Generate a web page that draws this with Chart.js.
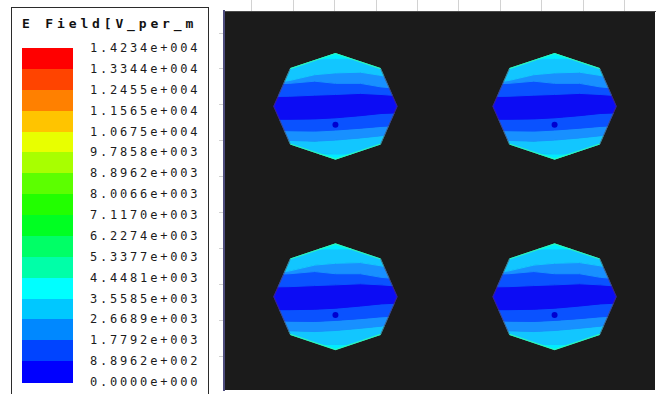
<!DOCTYPE html>
<html>
<head>
<meta charset="utf-8">
<script src="https://cdn.jsdelivr.net/npm/chart.js@4.4.1/dist/chart.umd.min.js"></script>
<style>
  html, body { margin: 0; padding: 0; background: #fff; }
  #wrap { position: relative; width: 659px; height: 394px; overflow: hidden; }
  #plot { position: absolute; left: 0; top: 0; }
  #legendBox { position: absolute; left: 11px; top: 7px; width: 196px; height: 400px; border: 1px solid #2b2b2b; background: #fff; }
  .legTitle { position: absolute; left: 22px; top: 16px; font: bold 13px "DejaVu Sans Mono", monospace; letter-spacing: 3.85px; color: #111; line-height: 16px; white-space: nowrap; }
  .legBand { position: absolute; left: 22px; width: 51px; }
  .legLabel { position: absolute; left: 90px; font: 12px "DejaVu Sans Mono", monospace; letter-spacing: 2.8px; color: #1c1c1c; line-height: 14px; white-space: nowrap; }
</style>
</head>
<body>
<div id="wrap">
  <canvas id="plot" width="659" height="394"></canvas>
  <div id="legendBox"></div>
</div>
<script>
// legend
const legendTitle = 'E Field[V_per_m';
const legendLabels = ['1.4234e+004', '1.3344e+004', '1.2455e+004', '1.1565e+004', '1.0675e+004',
  '9.7858e+003', '8.8962e+003', '8.0066e+003', '7.1170e+003', '6.2274e+003', '5.3377e+003',
  '4.4481e+003', '3.5585e+003', '2.6689e+003', '1.7792e+003', '8.8962e+002', '0.0000e+000'];
const legendColors = ['#ff0000', '#ff4400', '#ff8000', '#ffc400', '#e8ff00', '#a8ff00', '#5cff00', '#22ff00',
  '#00ff22', '#00ff66', '#00ffa8', '#00ffff', '#00c8ff', '#0088ff', '#0044ff', '#0000ff'];

// axes (ruler ticks only)
const xTicks = [1, 2, 3, 4, 5, 6, 7, 8, 9, 10];
const yTicks = [1, 2, 3, 4, 5, 6, 7, 8, 9, 10];
const xRange = [0.33, 10.734];
const yRange = [0.063, 10.614];

// four octagonal ports
const centerX = [3.02, 8.31];
const centerY = [7.96, 2.66];
const octagonX = [1.49, 1.09, 0, -1.09, -1.49, -1.09, 0, 1.09];
const octagonY = [0, 1.05, 1.47, 1.05, 0, -1.05, -1.47, -1.05];

// contour band boundaries (relative to centre), top to bottom
const boundaryX = [-1.7, -1.1, -0.5, 0, 0.6, 1.1, 1.7];
const boundaries = [
  [1.30, 1.30, 1.32, 1.33, 1.32, 1.30, 1.30],
  [0.62, 0.72, 0.88, 0.93, 0.95, 0.86, 0.70],
  [0.62, 0.64, 0.70, 0.64, 0.64, 0.54, 0.48],
  [0.27, 0.28, 0.31, 0.33, 0.36, 0.33, 0.28],
  [-0.36, -0.36, -0.35, -0.32, -0.26, -0.20, -0.17],
  [-0.66, -0.68, -0.69, -0.66, -0.61, -0.56, -0.52],
  [-0.84, -0.95, -0.97, -0.94, -0.88, -0.82, -0.70],
  [-1.30, -1.30, -1.32, -1.33, -1.32, -1.30, -1.30]
];
const bandColors = ['#00ecff', '#12c6ff', '#1890ff', '#0a52ff', '#0c0cf4', '#0a52ff', '#1890ff', '#12c6ff', '#00ecff'];
const dotOffset = [0, -0.51];

// build legend
const box = document.getElementById('wrap');
function addDiv(cls, css, text) {
  const d = document.createElement('div');
  d.className = cls;
  Object.assign(d.style, css);
  if (text) d.textContent = text;
  box.appendChild(d);
}
addDiv('legTitle', {}, legendTitle);
const bandTop = 48, bandH = (382 - 48) / legendColors.length;
legendColors.forEach((c, i) => {
  addDiv('legBand', {top: (bandTop + i * bandH) + 'px', height: (bandH + 0.5) + 'px', background: c});
});
legendLabels.forEach((t, i) => {
  addDiv('legLabel', {top: (bandTop + i * bandH - 7) + 'px'}, t);
});

// clip a polygon by the convex octagon (Sutherland-Hodgman)
const octagon = octagonX.map((x, i) => ({x: x, y: octagonY[i]}));
function clipPoly(subject) {
  let out = subject;
  for (let i = 0; i < octagon.length; i++) {
    const a = octagon[i], b = octagon[(i + 1) % octagon.length];
    const ex = b.x - a.x, ey = b.y - a.y;
    const inside = p => ex * (p.y - a.y) - ey * (p.x - a.x) >= 0;
    const inp = out;
    out = [];
    for (let j = 0; j < inp.length; j++) {
      const p = inp[j], q = inp[(j + 1) % inp.length];
      const pin = inside(p), qin = inside(q);
      if (pin) out.push(p);
      if (pin !== qin) {
        const dx = q.x - p.x, dy = q.y - p.y;
        const t = (ex * (a.y - p.y) - ey * (a.x - p.x)) / (ex * dy - ey * dx);
        out.push({x: p.x + t * dx, y: p.y + t * dy});
      }
    }
  }
  return out;
}

const datasets = [];
const flatTop = boundaryX.map(() => 2), flatBottom = boundaryX.map(() => -2);
centerY.forEach(cy => centerX.forEach(cx => {
  // centre dot
  datasets.push({data: [{x: cx + dotOffset[0], y: cy + dotOffset[1]}], showLine: false,
    pointRadius: 3, pointBackgroundColor: '#0000d0', pointBorderWidth: 0, order: 0});
  // rim
  const rim = (idx, color, w) => datasets.push({
    data: idx.map(k => ({x: cx + octagonX[k], y: cy + octagonY[k]})),
    borderColor: color, borderWidth: w, pointRadius: 0, fill: false, order: 1
  });
  rim([3, 2, 1], 'rgba(50,255,170,0.85)', 1.2);
  rim([5, 6, 7], 'rgba(50,255,170,0.85)', 1.2);
  rim([1, 0, 7], 'rgba(110,60,30,0.5)', 1);
  rim([3, 4, 5], 'rgba(110,60,30,0.5)', 1);
  // contour bands
  bandColors.forEach((color, k) => {
    const upper = k === 0 ? flatTop : boundaries[k - 1];
    const lower = k === bandColors.length - 1 ? flatBottom : boundaries[k];
    const subject = boundaryX.map((x, i) => ({x: x, y: upper[i]}))
      .concat(boundaryX.map((x, i) => ({x: x, y: lower[i]})).reverse());
    const poly = clipPoly(subject);
    if (poly.length < 3) return;
    poly.push(poly[0]);
    datasets.push({
      data: poly.map(p => ({x: cx + p.x, y: cy + p.y})),
      borderColor: color, backgroundColor: color, borderWidth: 1,
      pointRadius: 0, fill: 'shape', order: 2
    });
  });
}));

const plotBackground = {
  id: 'plotBackground',
  beforeDraw(chart) {
    const {ctx, chartArea: a} = chart;
    ctx.save();
    ctx.fillStyle = '#1b1b1b';
    ctx.fillRect(a.left, a.top, a.right - a.left, a.bottom - a.top);
    ctx.restore();
  }
};

new Chart(document.getElementById('plot').getContext('2d'), {
  type: 'line',
  data: {datasets: datasets},
  options: {
    responsive: false,
    animation: false,
    events: [],
    layout: {padding: {left: 219, top: 0, right: 0, bottom: 0}},
    elements: {line: {tension: 0}},
    plugins: {legend: {display: false}, tooltip: {enabled: false}},
    scales: {
      x: {
        type: 'linear', position: 'top', min: xRange[0], max: xRange[1],
        afterBuildTicks: s => { s.ticks = xTicks.map(v => ({value: v})); },
        ticks: {display: false},
        grid: {drawOnChartArea: false, tickLength: 11, color: '#d2d2d2'},
        border: {color: '#4a4a4a', width: 1}
      },
      y: {
        type: 'linear', position: 'left', min: yRange[0], max: yRange[1],
        afterBuildTicks: s => { s.ticks = yTicks.map(v => ({value: v})); },
        ticks: {display: false},
        grid: {drawOnChartArea: false, tickLength: 5, color: '#d2d2d2'},
        border: {color: '#4c4c7c', width: 2}
      }
    }
  },
  plugins: [plotBackground]
});
</script>
</body>
</html>
